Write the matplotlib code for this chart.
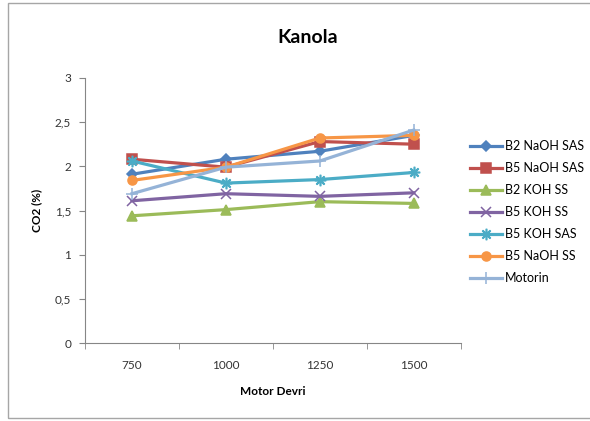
import matplotlib.pyplot as plt
from matplotlib.patches import Rectangle

plt.rcParams['font.family'] = ['Lato', 'DejaVu Sans']

devir = ['750', '1000', '1250', '1500']
b2_naoh_sas = [1.91, 2.08, 2.17, 2.35]
b5_naoh_sas = [2.08, 1.99, 2.28, 2.25]
b2_koh_ss = [1.44, 1.51, 1.60, 1.58]
b5_koh_ss = [1.61, 1.69, 1.66, 1.70]
b5_koh_sas = [2.06, 1.81, 1.85, 1.93]
b5_naoh_ss = [1.84, 1.99, 2.32, 2.35]
motorin = [1.69, 1.99, 2.06, 2.41]

series = [
    ('B2 NaOH SAS', b2_naoh_sas, '#4F81BD', 'D', 5),
    ('B5 NaOH SAS', b5_naoh_sas, '#C0504D', 's', 6.5),
    ('B2 KOH SS', b2_koh_ss, '#9BBB59', '^', 6.5),
    ('B5 KOH SS', b5_koh_ss, '#8064A2', 'x', 6.5),
    ('B5 KOH SAS', b5_koh_sas, '#4BACC6', '$\u2733$', 7.5),
    ('B5 NaOH SS', b5_naoh_ss, '#F79646', 'o', 6.5),
    ('Motorin', motorin, '#95B3D7', '+', 9),
]

fig = plt.figure(figsize=(5.9, 4.21), dpi=100)
ax = fig.add_axes([0.144, 0.185, 0.637, 0.63])

x = range(len(devir))
for name, vals, col, mk, ms in series:
    ax.plot(x, vals, color=col, lw=2.3, marker=mk, markersize=ms,
            markeredgewidth=1.1, label=name)

ax.set_xlim(-0.5, len(devir) - 0.5)
ax.set_ylim(0, 3)
ax.set_yticks([0, 0.5, 1, 1.5, 2, 2.5, 3])
ax.set_yticklabels(['0', '0,5', '1', '1,5', '2', '2,5', '3'])
ax.set_xticks(list(x))
ax.set_xticklabels(devir)
ax.set_xticks([i - 0.5 for i in range(len(devir) + 1)], minor=True)
ax.tick_params(axis='x', which='major', length=0, pad=12)
ax.tick_params(axis='x', which='minor', length=4, color='#868686')
ax.tick_params(axis='y', length=4, color='#868686', pad=6)
ax.tick_params(labelsize=8.5, labelcolor='#333333')

for s in ['top', 'right']:
    ax.spines[s].set_visible(False)
for s in ['left', 'bottom']:
    ax.spines[s].set_color('#868686')

ax.set_xlabel('Motor Devri', fontsize=8.5, fontweight='bold', labelpad=11)
ax.set_ylabel('CO2 (%)', fontsize=8.5, fontweight='bold', labelpad=9)
fig.text(0.522, 0.912, 'Kanola', ha='center', va='center', fontsize=14,
         fontweight='bold')

leg = ax.legend(loc='upper left', bbox_to_anchor=(1.01, 0.785), frameon=False,
                fontsize=9, handlelength=2.6, handletextpad=0.25,
                labelspacing=0.8, borderaxespad=0)

fig.patches.append(Rectangle((8 / 590, 3 / 421), 600 / 590, 415 / 421,
                             transform=fig.transFigure, fill=False,
                             edgecolor='#A6A6A6', lw=1))

fig.savefig('out.png', dpi=100)
